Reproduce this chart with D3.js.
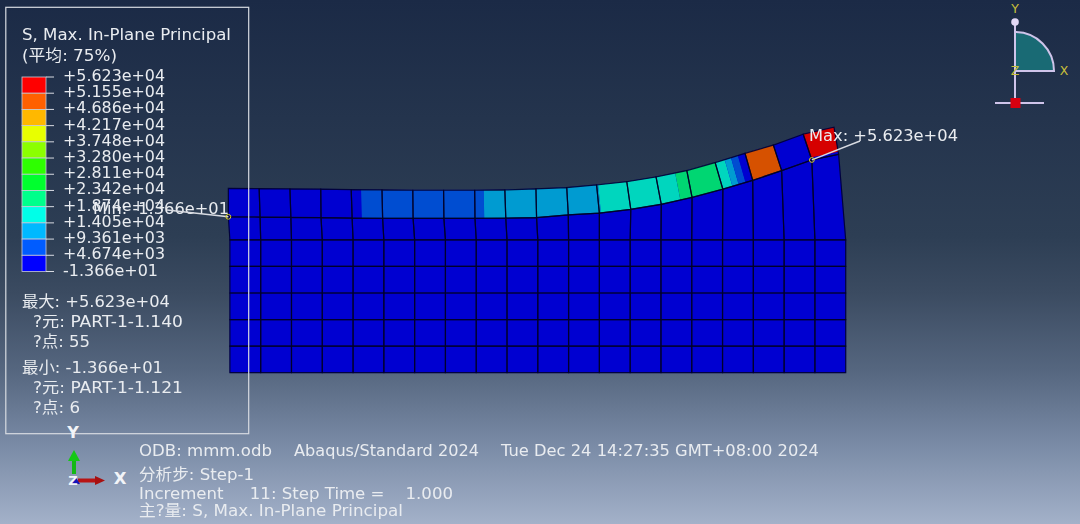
<!DOCTYPE html>
<html>
<head>
<meta charset="utf-8">
<script src="https://cdn.jsdelivr.net/npm/d3@7"></script>
<style>
  html, body { margin: 0; padding: 0; background: #1b2a46; overflow: hidden; }
  text { font-family: "DejaVu Sans", "Noto Sans CJK SC", sans-serif; }
</style>
</head>
<body>
<script>
// legend
var legendLabels = ["+5.623e+04", "+5.155e+04", "+4.686e+04", "+4.217e+04", "+3.748e+04", "+3.280e+04", "+2.811e+04",
                    "+2.342e+04", "+1.874e+04", "+1.405e+04", "+9.361e+03", "+4.674e+03", "-1.366e+01"];
var legendColors = ["#ff0000", "#ff6000", "#ffb800", "#e8ff00", "#8bff00", "#2eff00", "#00ff2e",
                    "#00ff8b", "#00ffe8", "#00b9ff", "#005cff", "#0000ff"];

// mesh, node positions in model units. Rows 0-5 are the undeformed block
var columnX = [0, 1, 2, 3, 4, 5, 6, 7, 8, 9, 10, 11, 12, 13, 14, 15, 16, 17, 18, 19, 20];
var rowY = [0, 1, 2, 3, 4, 5];
var midX = [-0.05, 0.98, 1.98, 2.96, 3.97, 4.96, 5.95, 6.95, 7.96, 8.96, 9.96, 10.99, 12.00, 13.02, 14.01, 15.01, 16.01, 16.98, 17.92, 18.90, 19.77];
var midY = [5.87, 5.86, 5.85, 5.84, 5.82, 5.81, 5.81, 5.81, 5.81, 5.82, 5.84, 5.94, 6.01, 6.15, 6.34, 6.60, 6.91, 7.24, 7.61, 8.01, 8.22];
var topX = [-0.05, 0.95, 1.95, 2.95, 3.94, 4.94, 5.94, 6.94, 7.95, 8.93, 9.94, 10.94, 11.91, 12.89, 13.84, 14.84, 15.76, 16.73, 17.65, 18.62, 19.62];
var topY = [6.94, 6.93, 6.92, 6.91, 6.89, 6.88, 6.87, 6.87, 6.87, 6.88, 6.92, 6.97, 7.07, 7.19, 7.37, 7.61, 7.91, 8.26, 8.57, 8.98, 9.24];

// contour bands along the top layer (element units, legend colour index from the bottom)
var bandFrom  = [0, 4.32, 8.30, 12.05, 14.62, 16, 16.32, 16.53, 16.76, 17, 18, 19];
var bandTo    = [4.32, 8.30, 12.05, 14.62, 16, 16.32, 16.53, 16.76, 17, 18, 19, 20];
var bandLevel = [0, 1, 2, 3, 4, 3, 2, 1, 0, 10, 0, 11];
var bandDepth = [1, 1, 1, 1, 1, 1, 1, 1, 1, 1, 1, 0.9];

// text blocks
var titleLines = ["S, Max. In-Plane Principal", "(平均: 75%)"];
var limitLines = ["最大: +5.623e+04", "?元: PART-1-1.140", "?点: 55", "最小: -1.366e+01", "?元: PART-1-1.121", "?点: 6"];
var headerParts = ["ODB: mmm.odb", "Abaqus/Standard 2024", "Tue Dec 24 14:27:35 GMT+08:00 2024"];
var stepLines = ["分析步: Step-1", "Increment     11: Step Time =    1.000", "主?量: S, Max. In-Plane Principal"];

var width = 1080;
var height = 524;
var textColor = "#e9ecf0";

var svg = d3.select("body").append("svg")
    .attr("width", width)
    .attr("height", height)
    .style("display", "block");

var defs = svg.append("defs");

var bg = defs.append("linearGradient")
    .attr("id", "bg")
    .attr("x1", 0).attr("x2", 0).attr("y1", 0).attr("y2", 1);
[[0, "#1b2a46"], [0.45, "#2d3e54"], [0.56, "#3b4b61"], [0.71, "#566780"], [0.85, "#7a8ba6"], [1, "#a3b1c9"]].forEach(function(s){
    bg.append("stop").attr("offset", s[0]).attr("stop-color", s[1]);
});

// the reference is a slightly soft screenshot
defs.append("filter").attr("id", "soft")
    .append("feGaussianBlur").attr("stdDeviation", 0.35);

svg.append("rect")
    .attr("width", width)
    .attr("height", height)
    .attr("fill", "url(#bg)");

// model scales
var x = d3.scaleLinear().domain([0, 20]).range([229.9, 845.7]);
var y = d3.scaleLinear().domain([0, 5]).range([372.7, 239.9]);

function shade(c){
    var rgb = d3.rgb(c);
    return d3.rgb(rgb.r * 0.84, rgb.g * 0.84, rgb.b * 0.82).formatHex();
}

// rows of nodes, bottom to top
var rows = rowY.map(function(r){
    return columnX.map(function(c){ return [x(c), y(r)]; });
});
rows.push(midX.map(function(c, i){ return [x(c), y(midY[i])]; }));
rows.push(topX.map(function(c, i){ return [x(c), y(topY[i])]; }));

var line = d3.line();
var cells = [];
for (var r = 0; r < rows.length - 1; r++) {
    for (var c = 0; c < columnX.length - 1; c++) {
        cells.push([rows[r][c], rows[r][c + 1], rows[r + 1][c + 1], rows[r + 1][c]]);
    }
}

var model = svg.append("g");

model.selectAll("path.base")
    .data(cells)
    .enter()
    .append("path")
    .attr("class", "base")
    .attr("d", function(d){ return line(d) + "Z"; })
    .attr("fill", shade("#0000ff"))
    .attr("stroke", shade("#0000ff"))
    .attr("stroke-width", 0.5);

// point inside the top layer: u along the strip, v from top (0) to bottom (1)
function stripPoint(u, v){
    var i = Math.min(Math.floor(u), 19);
    var t = u - i;
    var a = rows[7], b = rows[6];
    var topP = [a[i][0] + (a[i + 1][0] - a[i][0]) * t, a[i][1] + (a[i + 1][1] - a[i][1]) * t];
    var botP = [b[i][0] + (b[i + 1][0] - b[i][0]) * t, b[i][1] + (b[i + 1][1] - b[i][1]) * t];
    return [topP[0] + (botP[0] - topP[0]) * v, topP[1] + (botP[1] - topP[1]) * v];
}

var legendFromBottom = legendColors.slice().reverse();

model.selectAll("path.band")
    .data(bandFrom)
    .enter()
    .append("path")
    .attr("class", "band")
    .attr("d", function(d, i){
        var pts = [stripPoint(d, 0)];
        for (var k = Math.floor(d) + 1; k < bandTo[i]; k++) pts.push(stripPoint(k, 0));
        pts.push(stripPoint(bandTo[i], 0));
        pts.push(stripPoint(bandTo[i], bandDepth[i]));
        for (var k2 = Math.ceil(bandTo[i]) - 1; k2 > d; k2--) pts.push(stripPoint(k2, bandDepth[i]));
        pts.push(stripPoint(d, bandDepth[i]));
        return line(pts) + "Z";
    })
    .attr("fill", function(d, i){ return shade(legendFromBottom[bandLevel[i]]); });

// element edges
model.selectAll("path.edge")
    .data(cells)
    .enter()
    .append("path")
    .attr("class", "edge")
    .attr("d", function(d){ return line(d) + "Z"; })
    .attr("fill", "none")
    .attr("stroke", "#000028")
    .attr("stroke-opacity", 0.85)
    .attr("stroke-width", 1.2);

// legend box, drawn over the model
svg.append("rect")
    .attr("x", 5.8).attr("y", 7.3)
    .attr("width", 242.9).attr("height", 426.4)
    .attr("fill", "none")
    .attr("stroke", "#d8dbe2")
    .attr("stroke-width", 1.2);

var legendY = d3.scaleLinear().domain([0, 12]).range([77, 271.5]);

svg.selectAll("rect.swatch")
    .data(legendColors)
    .enter()
    .append("rect")
    .attr("class", "swatch")
    .attr("x", 22)
    .attr("y", function(d, i){ return legendY(i); })
    .attr("width", 24)
    .attr("height", function(d, i){ return legendY(i + 1) - legendY(i); })
    .attr("fill", function(d){ return d; })
    .attr("stroke", "#c8cbd8")
    .attr("stroke-width", 0.8);

svg.selectAll("line.tick")
    .data(legendLabels)
    .enter()
    .append("line")
    .attr("class", "tick")
    .attr("x1", 46).attr("x2", 54)
    .attr("y1", function(d, i){ return legendY(i); })
    .attr("y2", function(d, i){ return legendY(i); })
    .attr("stroke", "#d8dbe2")
    .attr("stroke-width", 1);

var labels = svg.append("g").attr("filter", "url(#soft)").attr("fill", textColor).attr("font-size", 15.5);

// w is the width the text takes in the reference, that font is a bit wider than DejaVu
function put(str, px, py, w){
    return labels.append("text")
        .attr("x", px)
        .attr("y", py)
        .attr("xml:space", "preserve")
        .style("white-space", "pre")
        .attr("textLength", w)
        .attr("lengthAdjust", "spacingAndGlyphs")
        .text(str);
}

put(titleLines[0], 22, 39.5, 209);
put(titleLines[1], 22, 61, 95);

legendLabels.forEach(function(s, i){
    put(s, 63, legendY(i) + 4, i == 12 ? 95 : 102);
});

var limitX = [22, 33, 33, 22, 33, 33];
var limitY = [307, 327, 347, 373, 393, 413];
var limitW = [148, 150, 57, 141, 150, 47];
limitLines.forEach(function(s, i){ put(s, limitX[i], limitY[i], limitW[i]); });

put(headerParts[0], 139, 456, 133);
put(headerParts[1], 294, 456, 185);
put(headerParts[2], 501, 456, 318);

var stepY = [480, 499, 516];
var stepW = [115, 314, 264];
stepLines.forEach(function(s, i){ put(s, 139, stepY[i], stepW[i]); });

// min and max annotations
var minNode = rows[6][0];
var maxNode = rows[6][19];
svg.append("line")
    .attr("x1", 167).attr("y1", 210)
    .attr("x2", minNode[0]).attr("y2", minNode[1])
    .attr("stroke", "#d8dbe2").attr("stroke-width", 1.4);
svg.append("line")
    .attr("x1", maxNode[0]).attr("y1", maxNode[1])
    .attr("x2", 860).attr("y2", 141)
    .attr("stroke", "#d8dbe2").attr("stroke-width", 1.4);

svg.selectAll("circle.node")
    .data([minNode, maxNode])
    .enter()
    .append("circle")
    .attr("class", "node")
    .attr("cx", function(d){ return d[0]; })
    .attr("cy", function(d){ return d[1]; })
    .attr("r", 2.4)
    .attr("fill", "none")
    .attr("stroke", "#d8d020")
    .attr("stroke-width", 1);

put("Min: -1.366e+01", 93, 214, 136);
put("Max: +5.623e+04", 809, 141, 149);

// view triad, top right
var triad = svg.append("g");
var lav = "#cfc4ea";
var arc = d3.arc()
    .innerRadius(0).outerRadius(39)
    .startAngle(0).endAngle(Math.PI / 2);
triad.append("path")
    .attr("transform", "translate(1015,71)")
    .attr("d", arc())
    .attr("fill", "#196a74")
    .attr("stroke", lav)
    .attr("stroke-width", 2);
triad.append("line").attr("x1", 1015).attr("x2", 1015).attr("y1", 22).attr("y2", 103).attr("stroke", lav).attr("stroke-width", 2);
triad.append("line").attr("x1", 995).attr("x2", 1044).attr("y1", 103).attr("y2", 103).attr("stroke", lav).attr("stroke-width", 2);
triad.append("circle").attr("cx", 1015).attr("cy", 22).attr("r", 3.8).attr("fill", "#e2d8f6");
triad.append("rect").attr("x", 1010.5).attr("y", 98).attr("width", 10).attr("height", 10).attr("fill", "#d80010");
[["Y", 1015, 12.5], ["Z", 1015, 74.5], ["X", 1064, 74.5]].forEach(function(t){
    triad.append("text")
        .attr("x", t[1]).attr("y", t[2])
        .attr("text-anchor", "middle")
        .attr("font-size", 12.5)
        .attr("fill", "#c8bf3a")
        .text(t[0]);
});

// axis triad, bottom left
var axes = svg.append("g");
axes.append("line").attr("x1", 74).attr("x2", 74).attr("y1", 474).attr("y2", 459).attr("stroke", "#14b814").attr("stroke-width", 4);
axes.append("path").attr("d", d3.line()([[68, 461], [74, 450], [80, 461]]) + "Z").attr("fill", "#14c814");
axes.append("line").attr("x1", 78).attr("x2", 96).attr("y1", 480.5).attr("y2", 480.5).attr("stroke", "#b81414").attr("stroke-width", 4);
axes.append("path").attr("d", d3.line()([[95, 476], [105, 480.5], [95, 485]]) + "Z").attr("fill", "#a81010");
axes.append("path").attr("d", d3.line()([[70, 484], [75, 476], [80, 484]]) + "Z").attr("fill", "#1414b8");
[["Y", 73, 438, 16], ["X", 120, 484, 16.5], ["Z", 73, 484.5, 13]].forEach(function(t){
    axes.append("text")
        .attr("x", t[1]).attr("y", t[2])
        .attr("text-anchor", "middle")
        .attr("font-size", t[3])
        .attr("font-weight", "bold")
        .attr("fill", "#f2f4f8")
        .text(t[0]);
});
</script>
</body>
</html>
